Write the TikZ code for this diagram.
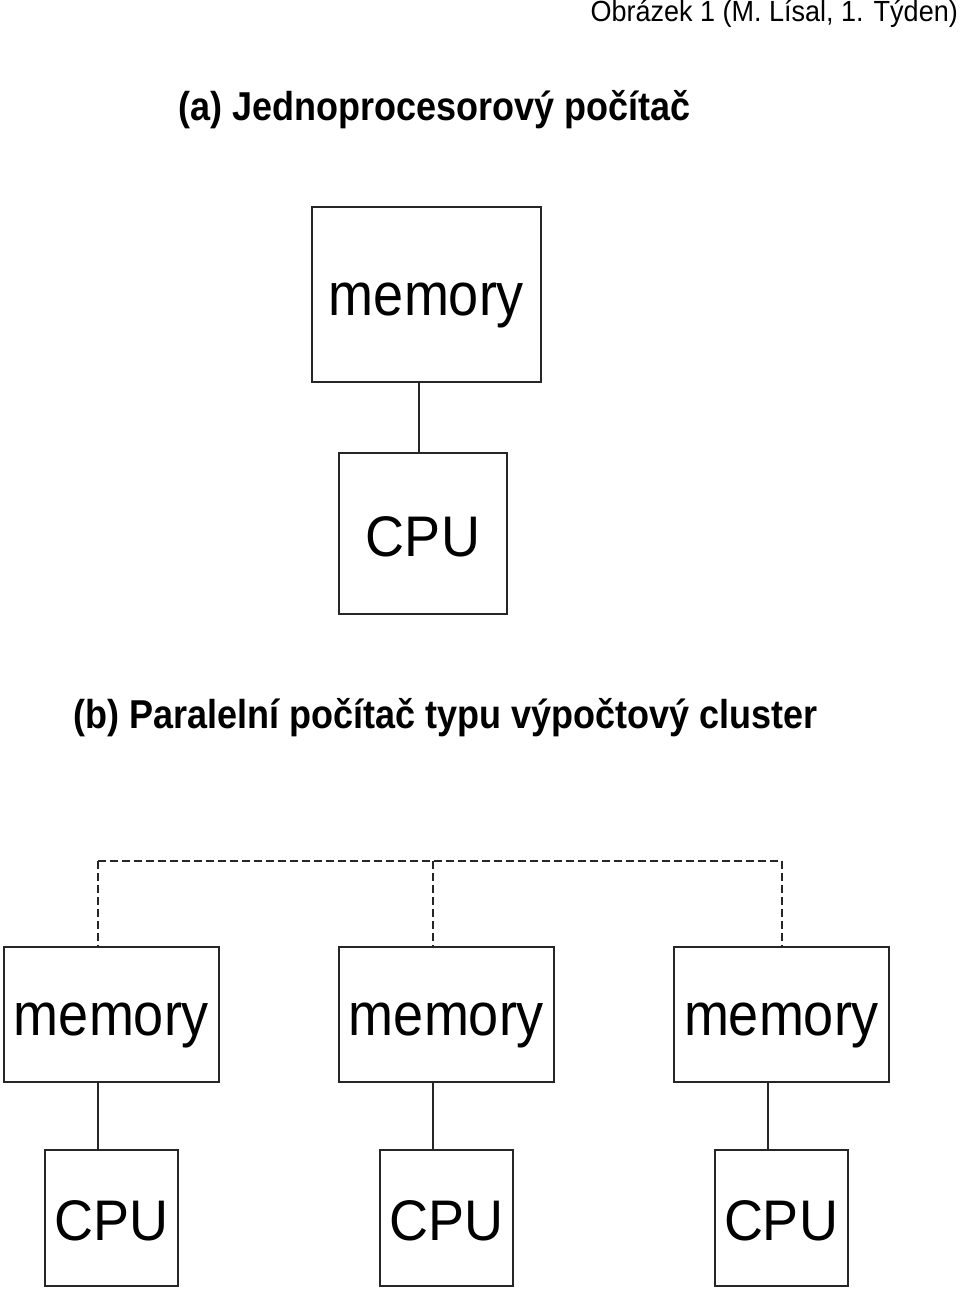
\documentclass[tikz,border=0pt]{standalone}
\usepackage{fontspec}
\setmainfont{Liberation Sans}
\newcommand{\vstr}[2]{\scalebox{1}[#1]{#2}}
\begin{document}
\begin{tikzpicture}[x=1pt,y=-1pt,
  box/.style={draw=black!85, line width=2pt, inner sep=0pt, outer sep=0pt, anchor=center},
  memtxt/.style={font=\fontsize{54}{60}\selectfont, text height=41pt, text depth=0pt},
  cputxt/.style={font=\fontsize{54}{60}\selectfont, text height=45pt, text depth=0pt},
  link/.style={draw=black!85, line width=1.5pt},
  dlink/.style={draw=black!85, line width=1.5pt, dash pattern=on 8pt off 4pt},
  ttl/.style={font=\fontsize{36}{40}\selectfont\bfseries, inner sep=0pt, anchor=base west},
  hdr/.style={font=\fontsize{27}{30}\selectfont, inner sep=0pt, anchor=base east}]
\useasboundingbox[fill=white] (0,0) rectangle (960,1290);
% header and titles
\node[hdr] (hdr) at (958,22) {\vstr{1.08}{Obrázek 1 (M. Lísal, 1. Týden)}};
\node[ttl] (ta) at (178,120) {\vstr{1.12}{(a) Jednoprocesorový počítač}};
\node[ttl] (tb) at (73,728) {\vstr{1.12}{(b) Paralelní počítač typu výpočtový cluster}};
% (a)
\node[box, memtxt, minimum width=229pt, minimum height=175pt] (m0) at (426.5,294.5) {\vstr{1.12}{memory}};
\node[box, cputxt, minimum width=168pt, minimum height=161pt] (c0) at (423,533.5) {\vstr{1.06}{CPU}};
\coordinate (l0) at (419,0);
\draw[link] (m0.south -| l0) -- (c0.north -| l0);
% (b)
\foreach \i/\mx/\cx/\lx/\dx in {1/111.5/111.5/98/98, 2/446.5/446.5/433/433, 3/781.5/781/768/782}{
  \node[box, memtxt, minimum width=215pt, minimum height=135pt] (m\i) at (\mx,1014.5) {\vstr{1.12}{memory}};
  \node[box, cputxt, minimum width=133pt, minimum height=136pt] (c\i) at (\cx,1218) {\vstr{1.06}{CPU}};
  \coordinate (l\i) at (\lx,0);
  \coordinate (d\i) at (\dx,861);
  \draw[link] (m\i.south -| l\i) -- (c\i.north -| l\i);
  \draw[dlink] (d\i) -- (m\i.north -| d\i);
}
\draw[dlink] (d1) -- (d2) -- (d3);
\end{tikzpicture}
\end{document}
